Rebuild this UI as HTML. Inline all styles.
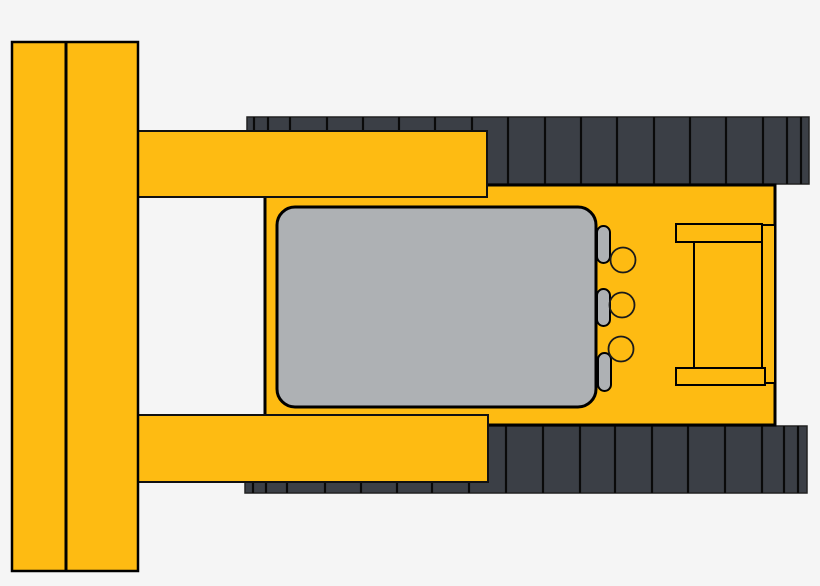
<!DOCTYPE html>
<html><head><meta charset="utf-8"><style>html,body{margin:0;padding:0;background:#f5f5f5;width:820px;height:586px;overflow:hidden}</style></head>
<body>
<svg width="820" height="586" viewBox="0 0 820 586" xmlns="http://www.w3.org/2000/svg">
<rect width="820" height="586" fill="#f5f5f5"/>
<!-- top track -->
<rect x="247" y="117" width="562" height="67" fill="#3b3f46" stroke="#222" stroke-width="1.5"/>
<g stroke="#0a0a0a" stroke-width="2.2">
<line x1="254" y1="117" x2="254" y2="184"/><line x1="268" y1="117" x2="268" y2="184"/><line x1="290" y1="117" x2="290" y2="184"/><line x1="327" y1="117" x2="327" y2="184"/><line x1="363" y1="117" x2="363" y2="184"/><line x1="399" y1="117" x2="399" y2="184"/><line x1="435" y1="117" x2="435" y2="184"/><line x1="472" y1="117" x2="472" y2="184"/><line x1="508" y1="117" x2="508" y2="184"/><line x1="545" y1="117" x2="545" y2="184"/><line x1="581" y1="117" x2="581" y2="184"/><line x1="617" y1="117" x2="617" y2="184"/><line x1="654" y1="117" x2="654" y2="184"/><line x1="690" y1="117" x2="690" y2="184"/><line x1="726" y1="117" x2="726" y2="184"/><line x1="763" y1="117" x2="763" y2="184"/><line x1="787" y1="117" x2="787" y2="184"/><line x1="801" y1="117" x2="801" y2="184"/>
</g>
<!-- bottom track -->
<rect x="245" y="426" width="562" height="67" fill="#3b3f46" stroke="#222" stroke-width="1.5"/>
<g stroke="#0a0a0a" stroke-width="2.2">
<line x1="253" y1="426" x2="253" y2="493"/><line x1="266" y1="426" x2="266" y2="493"/><line x1="287" y1="426" x2="287" y2="493"/><line x1="325" y1="426" x2="325" y2="493"/><line x1="361" y1="426" x2="361" y2="493"/><line x1="397" y1="426" x2="397" y2="493"/><line x1="432" y1="426" x2="432" y2="493"/><line x1="469" y1="426" x2="469" y2="493"/><line x1="506" y1="426" x2="506" y2="493"/><line x1="543" y1="426" x2="543" y2="493"/><line x1="580" y1="426" x2="580" y2="493"/><line x1="615" y1="426" x2="615" y2="493"/><line x1="652" y1="426" x2="652" y2="493"/><line x1="688" y1="426" x2="688" y2="493"/><line x1="725" y1="426" x2="725" y2="493"/><line x1="762" y1="426" x2="762" y2="493"/><line x1="784" y1="426" x2="784" y2="493"/><line x1="798" y1="426" x2="798" y2="493"/>
</g>
<!-- body -->
<rect x="265" y="185" width="510" height="240" fill="#febb12" stroke="#000" stroke-width="3"/>
<!-- cabin -->
<rect x="277" y="207" width="319" height="200" rx="18" fill="#aeb1b4" stroke="#000" stroke-width="3"/>
<!-- knobs -->
<g fill="#aeb1b4" stroke="#000" stroke-width="2">
<rect x="597" y="226" width="13" height="37" rx="6.5"/>
<rect x="597" y="289" width="13" height="37" rx="6.5"/>
<rect x="598" y="353" width="13" height="38" rx="6.5"/>
</g>
<g fill="none" stroke="#1a1a1a" stroke-width="1.8">
<circle cx="623" cy="260" r="12.5"/><circle cx="622" cy="305" r="12.5"/><circle cx="621" cy="349" r="12.5"/>
</g>
<!-- rear -->
<g fill="#febb12" stroke="#000" stroke-width="2">
<rect x="762" y="225" width="13" height="158"/>
<rect x="694" y="242" width="68" height="126"/>
<rect x="676" y="224" width="86" height="18"/>
<rect x="676" y="368" width="89" height="17"/>
</g>
<!-- arms -->
<g fill="#febb12" stroke="#111" stroke-width="2">
<rect x="138" y="131" width="349" height="66"/>
<rect x="138" y="415" width="350" height="67"/>
</g>
<!-- blade -->
<rect x="12" y="42" width="126" height="529" fill="#febb12" stroke="#000" stroke-width="2.5"/>
<line x1="66" y1="42" x2="66" y2="571" stroke="#000" stroke-width="3"/>
</svg>
</body></html>
